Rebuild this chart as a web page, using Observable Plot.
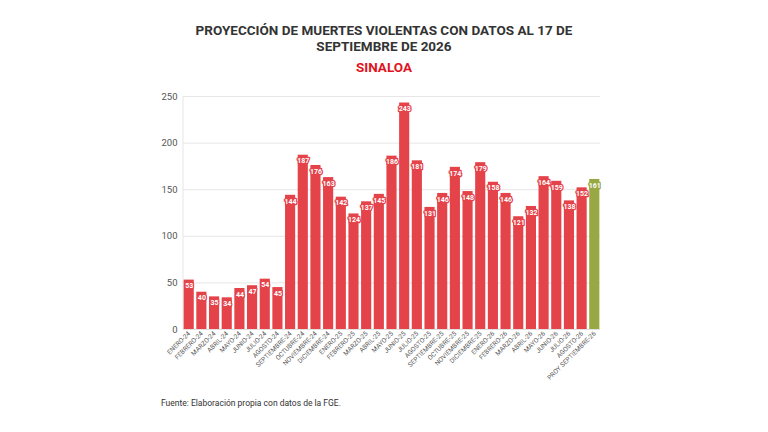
<!DOCTYPE html>
<html>
<head>
<meta charset="utf-8">
<script src="https://cdn.jsdelivr.net/npm/d3@7"></script>
<script src="https://cdn.jsdelivr.net/npm/@observablehq/plot@0.6"></script>
<style>
  html, body { margin: 0; padding: 0; background: #fff; }
  #wrap { position: relative; width: 768px; height: 432px; overflow: hidden; font-family: "Roboto", "Liberation Sans", sans-serif; }
  #title { position: absolute; top: 22px; left: 0; width: 768px; text-align: center; font-weight: 700; font-size: 13.5px; line-height: 16px; color: #333; }
  #sub { position: absolute; top: 59px; left: 0; width: 768px; text-align: center; font-weight: 700; font-size: 13.5px; color: #e0141e; }
  #chart { position: absolute; top: 85px; left: 0; }
  #foot { position: absolute; top: 398px; left: 161px; font-size: 8.5px; color: #333; }
</style>
</head>
<body>
<div id="wrap">
  <div id="title">PROYECCIÓN DE MUERTES VIOLENTAS CON DATOS AL 17 DE<br>SEPTIEMBRE DE 2026</div>
  <div id="sub">SINALOA</div>
  <div id="chart"></div>
  <div id="foot">Fuente: Elaboración propia con datos de la FGE.</div>
</div>
<script>
const months = [
  "ENERO-24","FEBRERO-24","MARZO-24","ABRIL-24","MAYO-24","JUNIO-24","JULIO-24","AGOSTO-24",
  "SEPTIEMBRE-24","OCTUBRE-24","NOVIEMBRE-24","DICIEMBRE-24",
  "ENERO-25","FEBRERO-25","MARZO-25","ABRIL-25","MAYO-25","JUNIO-25","JULIO-25","AGOSTO-25",
  "SEPTIEMBRE-25","OCTUBRE-25","NOVIEMBRE-25","DICIEMBRE-25",
  "ENERO-26","FEBRERO-26","MARZO-26","ABRIL-26","MAYO-26","JUNIO-26","JULIO-26","AGOSTO-26",
  "PROY SEPTIEMBRE-26"
];
const deaths = [
  53,40,35,34,44,47,54,45,
  144,187,176,163,
  142,124,137,145,186,243,181,131,
  146,174,148,179,
  158,146,121,132,164,159,138,152,
  161
];
const kinds = months.map(m => m.startsWith("PROY") ? "proy" : "real");
const yTicks = [0,50,100,150,200,250];

const data = months.map((m,i) => ({month: m, value: deaths[i], kind: kinds[i]}));
const colorFor = k => k === "proy" ? "#98a843" : "#e5434a";

const chart = Plot.plot({
  width: 768,
  height: 310,
  marginLeft: 183,
  marginRight: 168,
  marginTop: 11,
  marginBottom: 66,
  style: {fontFamily: "Roboto, 'Liberation Sans', sans-serif", background: "transparent"},
  x: {domain: months, paddingInner: 0.2, paddingOuter: 0.05, round: false, label: null},
  y: {domain: [0,250], ticks: yTicks, label: null},
  marks: [
    Plot.gridY(yTicks, {stroke: "#e6e6e6", strokeOpacity: 1}),
    Plot.barY(data, {x: "month", y: "value", fill: d => colorFor(d.kind)}),
    Plot.text(data, {
      x: "month", y: "value", text: d => String(d.value),
      dy: 6, fill: "white", stroke: d => colorFor(d.kind), strokeWidth: 2.5,
      fontWeight: 700, fontSize: 7
    }),
    Plot.axisX({tickSize: 0, tickRotate: -45, tickPadding: 3, fontSize: 6.5, fill: "#555", label: null}),
    Plot.axisY({ticks: yTicks, tickSize: 0, tickPadding: 6, fontSize: 9.5, fill: "#555", label: null}),
    Plot.ruleY([0], {stroke: "#e0e0e0"})
  ]
});
const svg = d3.select(chart);
svg.insert("line", ":first-child").attr("x1", 183).attr("x2", 183).attr("y1", 11).attr("y2", 244)
  .attr("stroke", "#e6e6e6");
document.getElementById("chart").appendChild(chart);
</script>
</body>
</html>
